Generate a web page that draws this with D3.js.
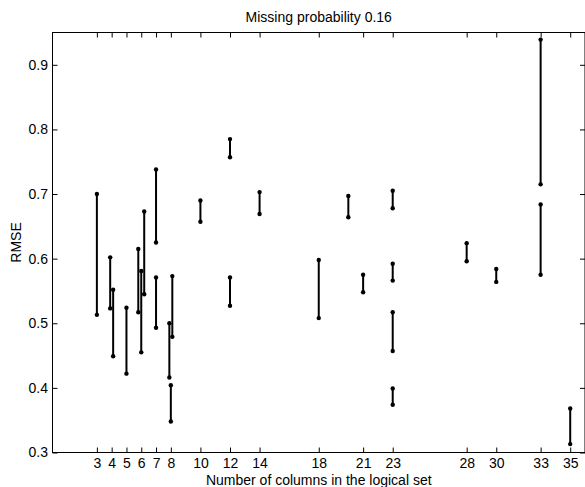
<!DOCTYPE html>
<html><head><meta charset="utf-8">
<script src="https://cdn.jsdelivr.net/npm/d3@7/dist/d3.min.js"></script>
<style>
html,body{margin:0;padding:0;background:#fff;}
svg{display:block;font-family:"Liberation Sans",Arial,Helvetica,sans-serif;}
</style></head>
<body><svg id="c" width="585" height="487"></svg>
<script>
// Data: column count position (with slight offsets for overlapping groups), low and high RMSE
const colPos = [3, 3.9, 4.1, 5, 5.8, 6.0, 6.2, 7, 7, 7.9, 8.0, 8.1, 10, 12, 12, 14, 18, 20, 21, 23, 23, 23, 23, 28, 30, 33, 33, 35];
const rmseHigh = [0.700, 0.602, 0.552, 0.524, 0.615, 0.581, 0.673, 0.738, 0.571, 0.500, 0.404, 0.573, 0.690, 0.785, 0.571, 0.703, 0.598, 0.697, 0.575, 0.705, 0.592, 0.517, 0.399, 0.624, 0.584, 0.939, 0.684, 0.368];
const rmseLow  = [0.513, 0.523, 0.449, 0.422, 0.517, 0.455, 0.545, 0.625, 0.493, 0.416, 0.348, 0.479, 0.657, 0.757, 0.527, 0.669, 0.508, 0.664, 0.548, 0.678, 0.566, 0.457, 0.374, 0.596, 0.564, 0.715, 0.575, 0.313];
const xTicks = [3, 4, 5, 6, 7, 8, 10, 12, 14, 18, 21, 23, 28, 30, 33, 35];
const yTicks = [0.3, 0.4, 0.5, 0.6, 0.7, 0.8, 0.9];
const title = "Missing probability 0.16";
const xTitle = "Number of columns in the logical set";
const yTitle = "RMSE";

const L = 52.5, R = 585, T = 32.5, B = 452.5;
const svg = d3.select("#c");
const x = d3.scaleLinear().domain([0, 36]).range([L, R]);
const y = d3.scaleLinear().domain([0.3, 0.95]).range([B, T]);

const fs = "14px";

// frame
svg.append("rect").attr("x", L).attr("y", T).attr("width", R - L).attr("height", B - T)
  .attr("fill", "none").attr("stroke", "#000").attr("stroke-width", 1);

const gB = svg.append("g").attr("transform", `translate(0,${B})`)
  .call(d3.axisBottom(x).tickValues(xTicks).tickFormat(d3.format("d")).tickSize(-5).tickSizeOuter(0).tickPadding(6));
const gT = svg.append("g").attr("transform", `translate(0,${T})`)
  .call(d3.axisTop(x).tickValues(xTicks).tickFormat("").tickSize(-5).tickSizeOuter(0));
const gL = svg.append("g").attr("transform", `translate(${L},0)`)
  .call(d3.axisLeft(y).tickValues(yTicks).tickFormat(d3.format(".1f")).tickSize(-5).tickSizeOuter(0).tickPadding(4.5));
const gR = svg.append("g").attr("transform", `translate(${R},0)`)
  .call(d3.axisRight(y).tickValues(yTicks).tickFormat("").tickSize(-5).tickSizeOuter(0));
[gB, gT, gL, gR].forEach(g => {
  g.select(".domain").remove();
  g.selectAll("line").attr("stroke", "#000").attr("stroke-width", 1);
  g.selectAll("text").attr("fill", "#000").style("font-size", fs)
    .style("font-family", '"Liberation Sans",Arial,Helvetica,sans-serif');
});

// segments
const data = colPos.map((c, i) => ({c, lo: rmseLow[i], hi: rmseHigh[i]}));
svg.append("g").selectAll("line").data(data).join("line")
  .attr("x1", d => x(d.c)).attr("x2", d => x(d.c))
  .attr("y1", d => y(d.lo)).attr("y2", d => y(d.hi))
  .attr("stroke", "#000").attr("stroke-width", 2);
const pts = data.flatMap(d => [{c: d.c, v: d.lo}, {c: d.c, v: d.hi}]);
svg.append("g").selectAll("circle").data(pts).join("circle")
  .attr("cx", d => x(d.c)).attr("cy", d => y(d.v)).attr("r", 2.2).attr("fill", "#000");

// titles
svg.append("text").attr("x", (L + R) / 2).attr("y", 22).attr("text-anchor", "middle")
  .style("font-size", fs).text(title);
svg.append("text").attr("x", (L + R) / 2).attr("y", 484.5).attr("text-anchor", "middle")
  .style("font-size", fs).text(xTitle);
svg.append("text").attr("transform", `translate(21,${(T + B) / 2}) rotate(-90)`).attr("text-anchor", "middle")
  .style("font-size", fs).text(yTitle);
</script></body></html>
